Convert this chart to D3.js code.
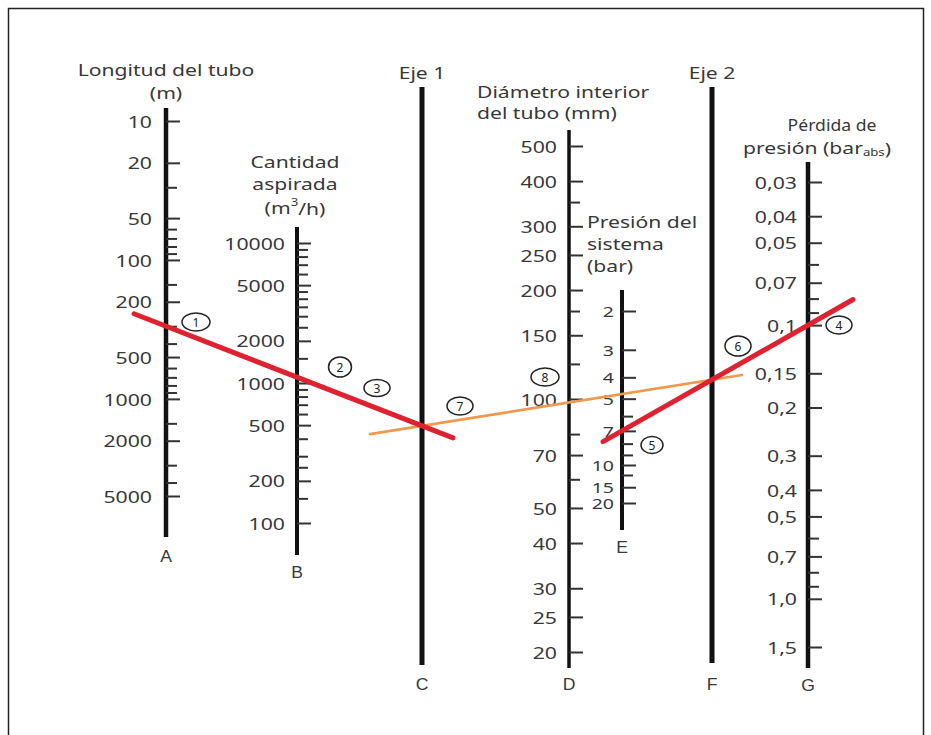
<!DOCTYPE html>
<html><head><meta charset="utf-8">
<script src="https://cdn.jsdelivr.net/npm/d3@7"></script>
<style>body{margin:0;background:#fff}svg{display:block}</style>
</head><body><svg id="c" width="931" height="735"></svg>
<script>
// ---------- data ----------
const lengthTicks  = [10,20,30,50,60,70,80,90,100,150,200,300,400,500,600,700,800,900,1000,1500,2000,3000,4000,5000];
const lengthLabels = [10,20,50,100,200,500,1000,2000,5000];
const flowTicks  = [10000,9000,8000,7000,6000,5000,4500,4000,3500,3000,2500,2000,1500,1000,900,800,700,600,500,400,300,250,200,150,100];
const flowLabels = [10000,5000,2000,1000,500,200,100];
const diamTicks  = [500,400,350,300,250,200,175,150,125,100,80,70,60,50,40,30,25,20];
const diamLabels = [500,400,300,250,200,150,100,70,50,40,30,25,20];
const pressTicks  = [2,3,4,5,6,7,8,9,10,12,15,20];
const pressLabels = [2,3,4,5,7,10,15,20];
const lossTicks  = [0.03,0.04,0.05,0.06,0.07,0.08,0.09,0.1,0.15,0.2,0.3,0.4,0.5,0.6,0.7,0.8,0.9,1.0,1.5];
const lossLabels = [0.03,0.04,0.05,0.07,0.1,0.15,0.2,0.3,0.4,0.5,0.7,1.0,1.5];
const lossLabelText = ["0,03","0,04","0,05","0,07","0,1","0,15","0,2","0,3","0,4","0,5","0,7","1,0","1,5"];
// worked example
const exLength = 300;     // m   (axis A)
const exFlow = 1100;      // m3/h (axis B)
const exLoss = 0.1;       // bar  (axis G)
const exPressure = 7;     // bar  (axis E)

// ---------- layout ----------
const svg = d3.select("#c");
const FONT = "Noto Sans, Open Sans, sans-serif";
const SX = 1.25, TXT = "#383838";
const X = {A:166, B:297, C:422, D:569, E:622, F:712, G:808};

const yA = d3.scaleLog().domain([10,5000]).range([121,496]);
const yB = d3.scaleLog().domain([10000,100]).range([243,523]);
const yD = d3.scaleLog().domain([500,20]).range([146,652]);
const yE = d3.scaleLog().domain([2,10,20]).range([311,465,503]);
const yG = d3.scaleLog().domain([0.03,1.5]).range([182,647]);

// frame
svg.append("rect").attr("x",8.5).attr("y",8.5).attr("width",915).attr("height",760)
  .attr("fill","none").attr("stroke","#222").attr("stroke-width",1.5);

function txt(x,y,s,o={}){
  const g = svg.append("g").attr("transform",`translate(${x},${y}) scale(${o.sx||SX},1)`);
  const t = g.append("text").attr("text-anchor",o.anchor||"middle")
    .attr("dominant-baseline","central")
    .attr("font-family",o.font||FONT).attr("font-size",o.size||17)
    .attr("fill",o.fill||TXT).text(s);
  return t;
}
const TT = {size:16, sx:1.32};               // title text style
const tt = (x,y,s,extra={}) => txt(x,y,s,Object.assign({},TT,extra));
const LET = {font:"Liberation Sans, Arial, sans-serif",size:16,sx:1.1};

function axis(x, y0, y1, w){
  svg.append("line").attr("x1",x).attr("x2",x).attr("y1",y0).attr("y2",y1)
    .attr("stroke","#111").attr("stroke-width",w);
}
function ticks(x, scale, minor, major){
  const mk = (vals,len)=>{
    const g = svg.append("g").attr("transform",`translate(${x},0)`)
      .call(d3.axisRight(scale).tickValues(vals).tickSize(len).tickSizeOuter(0).tickFormat(""));
    g.select(".domain").remove();
    g.selectAll(".tick line").attr("stroke","#333").attr("stroke-width",2);
  };
  mk(minor.filter(v=>!major.includes(v)),11);
  mk(major,14);
}
function labels(x, scale, vals, texts, gap, o={}){
  vals.forEach((v,i)=> txt(x-gap, scale(v), texts? texts[i] : String(v), Object.assign({anchor:"end"},o)));
}

// Axis A
axis(X.A,108,537,4.5); ticks(X.A,yA,lengthTicks,lengthLabels); labels(X.A,yA,lengthLabels,null,14);
tt(X.A,70,"Longitud del tubo"); tt(X.A,93,"(m)");
txt(X.A,557,"A",LET);

// Axis B
axis(X.B,227,555,4); ticks(X.B,yB,flowTicks,flowLabels); labels(X.B,yB,flowLabels,null,12);
tt(295,162,"Cantidad"); tt(295,184,"aspirada");
{ const t = tt(295,208,"(m"); t.append("tspan").attr("font-size",10).attr("dy",-6).text("3");
  t.append("tspan").attr("dy",6).text("/h)"); }
txt(X.B,573,"B",LET);

// Axis C (Eje 1)
axis(X.C,87,665,5); tt(X.C,73,"Eje 1");
txt(X.C,685,"C",LET);

// Axis D
axis(X.D,130,668,3.5); ticks(X.D,yD,diamTicks,diamLabels); labels(X.D,yD,diamLabels,null,12);
tt(477,92,"Diámetro interior",{anchor:"start"}); tt(477,113,"del tubo (mm)",{anchor:"start"});
txt(X.D,685,"D",LET);

// Axis E
axis(X.E,290,530,4); ticks(X.E,yE,pressTicks,pressLabels); labels(X.E,yE,pressLabels,null,8,{size:15,sx:1.3});
tt(587,222,"Presión del",{anchor:"start"}); tt(587,244,"sistema",{anchor:"start"}); tt(587,266,"(bar)",{anchor:"start"});
txt(X.E,548,"E",LET);

// Axis F (Eje 2)
axis(X.F,87,663,5); tt(X.F,73,"Eje 2");
txt(X.F,685,"F",LET);

// Axis G
axis(X.G,162,668,4.5); ticks(X.G,yG,lossTicks,lossLabels); labels(X.G,yG,lossLabels,lossLabelText,11);
tt(832,125,"Pérdida de",{sx:1.1});
{ const t = tt(743,148,"presión (bar",{anchor:"start"});
  t.append("tspan").attr("font-size",10).attr("dy",4).text("abs");
  t.append("tspan").attr("dy",-4).text(")"); }
txt(X.G,686,"G",LET);

// ---------- construction lines ----------
function lineThrough(p,q){ const m=(q[1]-p[1])/(q[0]-p[0]); return x=>p[1]+(x-p[0])*m; }
const l1 = lineThrough([X.A,yA(exLength)],[X.B,yB(exFlow)]);
const l3 = lineThrough([X.E,yE(exPressure)],[X.G,yG(exLoss)]);
const pC = [X.C,l1(X.C)], pF = [X.F,l3(X.F)];
const l2 = lineThrough(pC,pF);

svg.append("line").attr("x1",X.C-52).attr("y1",l2(X.C-52)).attr("x2",X.F+30).attr("y2",l2(X.F+30))
  .attr("stroke","#f0984e").attr("stroke-width",2.6).attr("stroke-linecap","round");
svg.append("line").attr("x1",X.A-32).attr("y1",l1(X.A-32)).attr("x2",X.C+31).attr("y2",l1(X.C+31))
  .attr("stroke","#de2230").attr("stroke-width",5).attr("stroke-linecap","round");
svg.append("line").attr("x1",X.E-19).attr("y1",l3(X.E-19)).attr("x2",X.G+45).attr("y2",l3(X.G+45))
  .attr("stroke","#de2230").attr("stroke-width",5).attr("stroke-linecap","round");

// step markers
const steps = ["1","2","3","4","5","6","7","8"];
const stepPos = [[196,322,14,9],[340,367,11.5,10],[377,388,13,8.5],[839,325,13,9],[652,445,11,8.5],[738,346,13,10],[460,406,13,9],[545,377,14,9]];
steps.forEach((s,i)=>{
  const [cx,cy,rx,ry] = stepPos[i];
  svg.append("ellipse").attr("cx",cx).attr("cy",cy).attr("rx",rx).attr("ry",ry)
    .attr("fill","none").attr("stroke","#222").attr("stroke-width",1.5);
  svg.append("text").attr("x",cx).attr("y",cy).attr("text-anchor","middle").attr("dominant-baseline","central")
    .attr("font-family",FONT).attr("font-size",12).attr("fill","#222").text(s);
});
</script></body></html>
